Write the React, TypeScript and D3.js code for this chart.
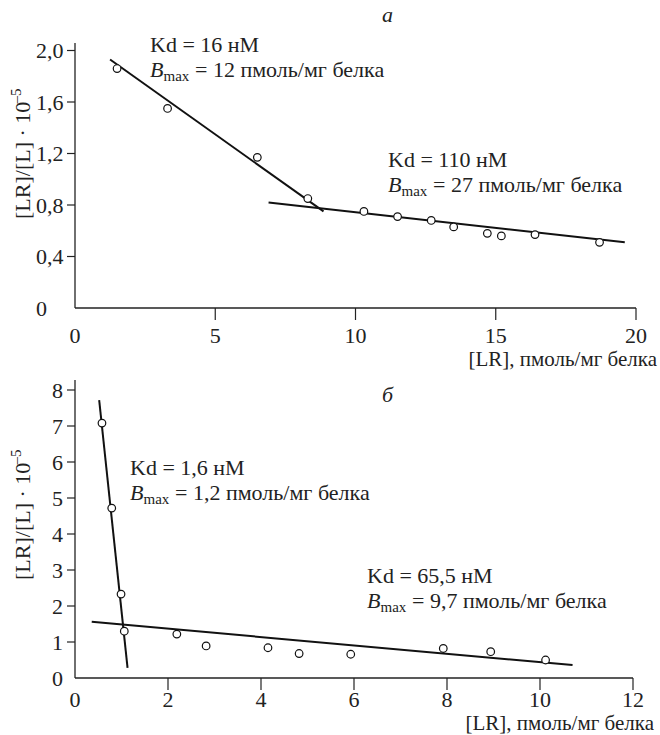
import React from 'react';
import * as d3 from 'd3';

// panel a
const aTicksX = [0, 5, 10, 15, 20];
const aTicksY = [0, 0.4, 0.8, 1.2, 1.6, 2.0];
const aLowX = [1.5, 3.3, 6.5, 8.3];
const aLowY = [1.86, 1.55, 1.17, 0.85];
const aHighX = [10.3, 11.5, 12.7, 13.5, 14.7, 15.2, 16.4, 18.7];
const aHighY = [0.75, 0.71, 0.68, 0.63, 0.58, 0.56, 0.57, 0.51];
const aLine1X = [1.25, 8.86];
const aLine1Y = [1.93, 0.75];
const aLine2X = [6.9, 19.6];
const aLine2Y = [0.82, 0.51];

// panel б
const bTicksX = [0, 2, 4, 6, 8, 10, 12];
const bTicksY = [0, 1, 2, 3, 4, 5, 6, 7, 8];
const bLowX = [0.58, 0.79, 0.99, 1.06];
const bLowY = [7.08, 4.72, 2.33, 1.3];
const bHighX = [2.19, 2.82, 4.15, 4.82, 5.93, 7.92, 8.94, 10.12];
const bHighY = [1.22, 0.89, 0.84, 0.68, 0.66, 0.82, 0.73, 0.5];
const bLine1X = [0.52, 1.13];
const bLine1Y = [7.72, 0.28];
const bLine2X = [0.36, 10.7];
const bLine2Y = [1.56, 0.36];

const SERIF = { fontFamily: '"Liberation Serif"' };
const SERIF_I = { fontFamily: '"Liberation Serif"', fontStyle: 'italic' as const };
const FS = 22;
const FS_SMALL = 15;

const fmtComma = (d: number) => (d === 0 ? '0' : d3.format('.1f')(d).replace('.', ','));

type Txt = { k: string; x: number; y: number; s: string; anchor?: string; size?: number; italic?: boolean; rot?: boolean };

export default function App() {
  const ax = d3.scaleLinear().domain([0, 20]).range([75, 636]);
  const ay = d3.scaleLinear().domain([0, 2]).range([308, 50.5]);
  const bx = d3.scaleLinear().domain([0, 12]).range([75, 633]);
  const by = d3.scaleLinear().domain([0, 8]).range([678, 390]);

  const texts: Txt[] = [];
  const marks: React.ReactNode[] = [];

  const panel = (
    id: string,
    x: d3.ScaleLinear<number, number>,
    y: d3.ScaleLinear<number, number>,
    ticksX: number[],
    ticksY: number[],
    yFmt: (d: number) => string,
    yTop: number,
    labelBase: number,
    yAnchorX: number,
    yAnchor: string,
    lines: [number[], number[]][],
    points: [number[], number[]][]
  ) => {
    const x0 = x.range()[0];
    const y0 = y.range()[0];
    marks.push(<line key={id + 'ax'} x1={x0} x2={x.range()[1]} y1={y0} y2={y0} stroke="#222" strokeWidth={1.3} />);
    marks.push(<line key={id + 'ay'} x1={x0} x2={x0} y1={y0} y2={yTop} stroke="#222" strokeWidth={1.3} />);
    ticksX.forEach(t => {
      if (t !== 0) marks.push(<line key={id + 'tx' + t} x1={x(t)} x2={x(t)} y1={y0} y2={y0 + 12} stroke="#222" strokeWidth={1.2} />);
      texts.push({ k: id + 'lx' + t, x: x(t), y: labelBase, s: String(t), anchor: 'middle' });
    });
    ticksY.forEach(t => {
      if (t !== 0) marks.push(<line key={id + 'ty' + t} x1={x0 - 8} x2={x0} y1={y(t)} y2={y(t)} stroke="#222" strokeWidth={1.2} />);
      texts.push({ k: id + 'ly' + t, x: yAnchorX, y: y(t) + 7.5, s: yFmt(t), anchor: yAnchor });
    });
    lines.forEach(([lx, ly], i) => {
      const path = d3.line<number>().x(d => x(lx[d])).y(d => y(ly[d]))(lx.map((_, k) => k));
      marks.push(<path key={id + 'l' + i} d={path || ''} fill="none" stroke="#111" strokeWidth={2} />);
    });
    points.forEach(([px, py], i) =>
      px.forEach((v, k) =>
        marks.push(<circle key={id + 'p' + i + '-' + k} cx={x(v)} cy={y(py[k])} r={3.8} fill="#fff" stroke="#111" strokeWidth={1.2} />)
      )
    );
  };

  const note = (id: string, x: number, y: number, kd: string, bmax: string) => {
    texts.push({ k: id + 'kd', x, y, s: `Kd = ${kd} нМ` });
    texts.push({ k: id + 'b', x, y: y + 25, s: 'B', italic: true });
    texts.push({ k: id + 'max', x: x + 13.5, y: y + 29, s: 'max', size: FS_SMALL });
    texts.push({ k: id + 'rest', x: x + 39.5, y: y + 25, s: `\u00a0= ${bmax} пмоль/мг белка` });
  };

  const yLabel = (id: string, cx: number, cy: number) => {
    // main part ~115px + superscript ~15px, centred on cy
    texts.push({ k: id + 'yl', x: cx, y: cy + 65, s: '[LR]/[L] · 10', rot: true });
    texts.push({ k: id + 'ys', x: cx - 9, y: cy - 50.5, s: '–5', size: FS_SMALL, rot: true });
  };

  panel('a', ax, ay, aTicksX, aTicksY, fmtComma, 43, 343, 36, 'start',
    [[aLine1X, aLine1Y], [aLine2X, aLine2Y]], [[aLowX, aLowY], [aHighX, aHighY]]);
  panel('b', bx, by, bTicksX, bTicksY, d => String(d), 380, 707, 63, 'end',
    [[bLine1X, bLine1Y], [bLine2X, bLine2Y]], [[bLowX, bLowY], [bHighX, bHighY]]);

  texts.push({ k: 'ta', x: 382, y: 22, s: 'а', italic: true });
  texts.push({ k: 'tb', x: 382, y: 402, s: 'б', italic: true });
  note('n1', 150, 52, '16', '12');
  note('n2', 388, 167, '110', '27');
  note('n3', 130, 475, '1,6', '1,2');
  note('n4', 367, 583, '65,5', '9,7');
  yLabel('ya', 30, 154);
  yLabel('yb', 30, 515);
  texts.push({ k: 'xa', x: 657, y: 366, s: '[LR], пмоль/мг белка', anchor: 'end', size: 21 });
  texts.push({ k: 'xb', x: 654, y: 730, s: '[LR], пмоль/мг белка', anchor: 'end', size: 21 });

  return (
    <div style={{ position: 'absolute', left: 0, top: 0 }}>
      <svg width={660} height={735}>
        <rect width={660} height={735} fill="#fff" />
        {marks}
        {texts.map(t => (
          <text
            key={t.k}
            x={t.rot ? 0 : t.x}
            y={t.rot ? 0 : t.y}
            transform={t.rot ? `translate(${t.x},${t.y}) rotate(-90)` : undefined}
            textAnchor={t.anchor || 'start'}
            fontSize={t.size || FS}
            fill="#222"
            style={t.italic ? SERIF_I : SERIF}
          >
            {t.s}
          </text>
        ))}
      </svg>
    </div>
  );
}
